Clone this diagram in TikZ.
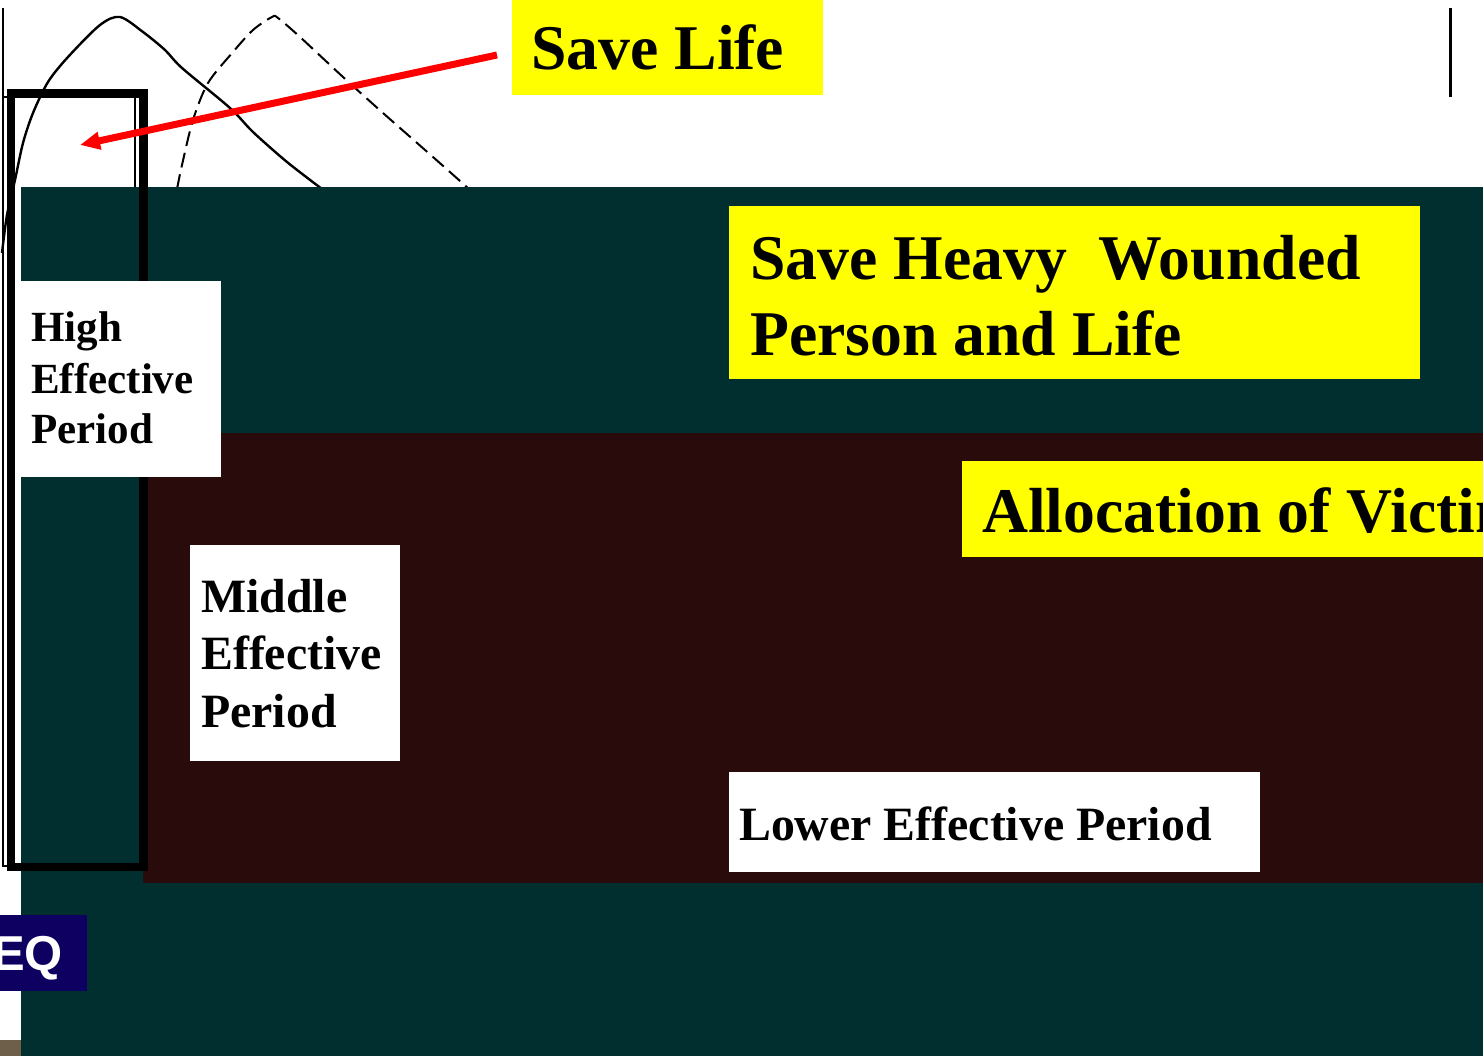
\documentclass[tikz,border=0pt]{standalone}
\usepackage{fontspec}
\setmainfont{Liberation Serif}
\setsansfont{Liberation Sans}
\usetikzlibrary{arrows.meta}

\definecolor{bgteal}{RGB}{1,47,47}
\definecolor{bgmaroon}{RGB}{42,11,11}
\definecolor{eqnavy}{RGB}{14,0,96}
\definecolor{footbrown}{RGB}{110,95,75}
\definecolor{hiyellow}{RGB}{255,255,0}

\tikzset{
  panel/.style={rectangle, inner sep=0pt, outer sep=0pt, anchor=north west},
  bigtxt/.style={anchor=base west, inner sep=0pt, font=\bfseries\fontsize{63.7}{78}\selectfont},
  midtxt/.style={anchor=base west, inner sep=0pt, font=\bfseries\fontsize{47.8}{58}\selectfont},
  smalltxt/.style={anchor=base west, inner sep=0pt, font=\bfseries\fontsize{43}{51}\selectfont},
  curve/.style={line width=2.4pt, line join=round},
}

\begin{document}
\begin{tikzpicture}[x=1pt,y=-1pt]
\useasboundingbox (0,0) rectangle (1483,1056);
\clip (0,0) rectangle (1483,1056);
\fill[white] (0,0) rectangle (1483,1056);

% axis lines and thin frame
\draw[line width=2.5pt] (3,8) -- (3,97);
\draw[line width=1.5pt] (3,97) rectangle (135,866);
\draw[line width=3pt] (1450,8) -- (1450,97);

% response curves
\draw[curve] plot[smooth] coordinates {(2,253) (7,215) (15,180) (23,143) (33,113) (48,82) (68,57) (100,25) (120,17) (143,32) (165,50) (182,68) (230,108) (253,132) (287,162) (322,189)};
\draw[curve, line width=2pt, dash pattern=on 15pt off 7pt] plot[smooth] coordinates {(177,189) (182,165) (193,120) (208,83) (233,52) (253,30) (272,17) (278,18) (300,37) (343,77) (383,113) (433,157) (469,189)};

% background bands
\node[panel, fill=bgteal, minimum width=1462pt, minimum height=869pt] (tealband) at (21,187) {};
\node[panel, fill=bgmaroon, minimum width=1340pt, minimum height=450pt] (maroonband) at (143,433) {};

% thick frame around the high-effect period
\draw[line width=8.5pt] (11,93.5) rectangle (143.5,867);

% lower-left corner items
\node[panel, fill=eqnavy, minimum width=87pt, minimum height=76pt] (eqbox) at (0,915) {};
\node[anchor=base west, inner sep=0pt, text=white, font=\sffamily\bfseries\fontsize{49}{58}\selectfont] (eqtxt) at (-8,970) {EQ};
\node[panel, fill=footbrown, minimum width=21pt, minimum height=16pt] (foot) at (0,1040) {};

% white period boxes
\node[panel, fill=white, minimum width=200pt, minimum height=196pt] (highbox) at (21,281) {};
\node[panel, fill=white, minimum width=210pt, minimum height=216pt] (midbox) at (190,545) {};
\node[panel, fill=white, minimum width=531pt, minimum height=100pt] (lowbox) at (729,772) {};

% yellow banners
\node[panel, fill=hiyellow, minimum width=311pt, minimum height=95pt] (lifebox) at (512,0) {};
\node[panel, fill=hiyellow, minimum width=691pt, minimum height=173pt] (heavybox) at (729,206) {};
\node[panel, fill=hiyellow, minimum width=530pt, minimum height=96pt] (allocbox) at (962,461) {};

% arrow
\coordinate (arrowtail) at (497,55);
\coordinate (arrowhead) at (80,145);
\draw[red, line width=7pt, -{Triangle[length=20pt,width=17pt]}] (arrowtail) -- (arrowhead);

% texts
\node[bigtxt] (lifetxt) at (531,70) {Save Life};
\node[bigtxt] (heavytxt1) at (750,280) {Save Heavy\ \ Wounded};
\node[bigtxt] (heavytxt2) at (750,356) {Person and Life};
\node[bigtxt] (alloctxt) at (982,532) {Allocation of Victim};

\node[smalltxt] (hightxt1) at (31,342) {High};
\node[smalltxt] (hightxt2) at (31,393) {Effective};
\node[smalltxt] (hightxt3) at (31,443) {Period};

\node[midtxt] (midtxt1) at (201,612) {Middle};
\node[midtxt] (midtxt2) at (201,669) {Effective};
\node[midtxt] (midtxt3) at (201,727) {Period};

\node[midtxt] (lowtxt) at (739,840) {Lower Effective Period};
\end{tikzpicture}
\end{document}
